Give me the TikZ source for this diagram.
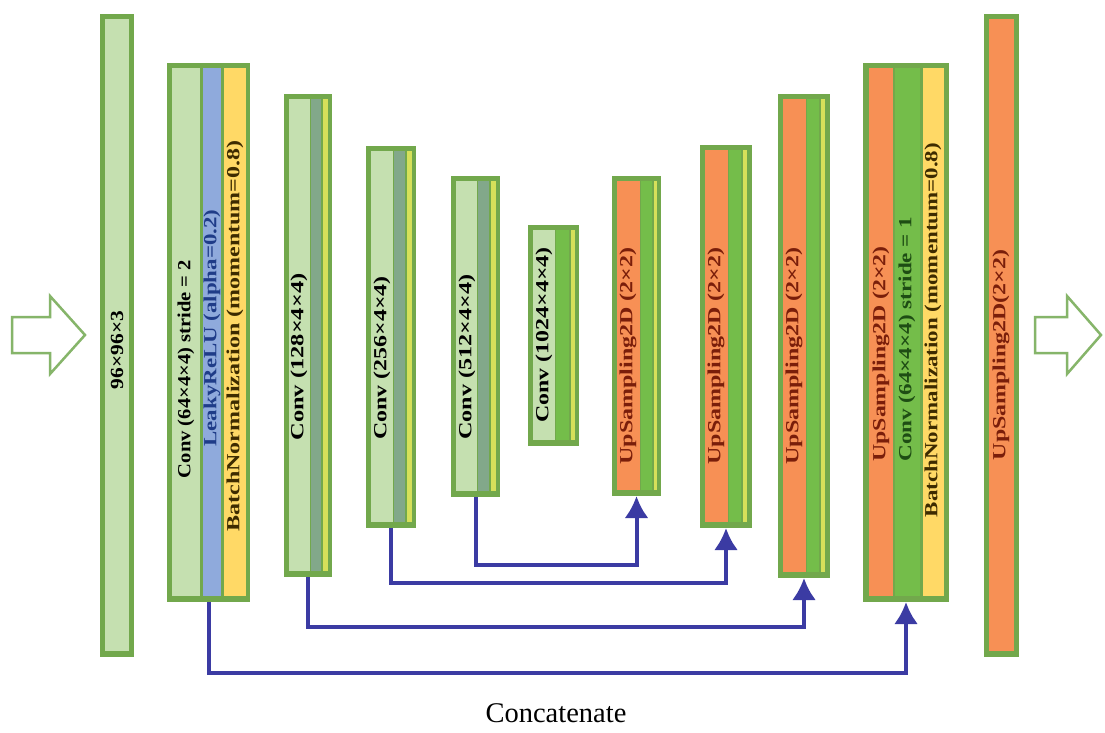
\documentclass[tikz,border=0pt]{standalone}
\usepackage{fontspec}
\setmainfont{Liberation Serif}
\usetikzlibrary{arrows.meta}
\definecolor{bdgreen}{HTML}{72A84C}
\definecolor{lgreen}{HTML}{C5E0B0}
\definecolor{bluest}{HTML}{8FAADC}
\definecolor{yellst}{HTML}{FFD966}
\definecolor{orangest}{HTML}{F79055}
\definecolor{tealst}{HTML}{82A88A}
\definecolor{limest}{HTML}{D6E05A}
\definecolor{greenst}{HTML}{74BD4A}
\definecolor{connblue}{HTML}{3B3BA3}
\definecolor{arrgreen}{HTML}{86B56A}
\definecolor{txtblue}{HTML}{1F3C88}
\definecolor{txtbrown}{HTML}{3D2B00}
\definecolor{txtred}{HTML}{7A1E0A}
\definecolor{txtgreen}{HTML}{1E4D14}
\newcommand{\vtxt}[2]{\resizebox{#1}{\height}{\fontsize{18.5}{18.5}\selectfont\bfseries #2}}
\begin{document}
\begin{tikzpicture}[x=1pt,y=-1pt,
  barbox/.style={fill=bdgreen,draw=none,inner sep=0pt,outer sep=0pt},
  lbl/.style={rotate=90,inner sep=0pt},
  conn/.style={draw=connblue,line width=4pt,-{Latex[length=22pt,width=24pt]}},
  hollow/.style={draw=arrgreen,line width=2.5pt,line join=miter,fill=white}]
\useasboundingbox (0,0) rectangle (1105,733);
\fill[white] (0,0) rectangle (1105,733);
% bars
\node[barbox,minimum width=34pt,minimum height=643pt] (b1) at (117,335.5) {};
\node[barbox,minimum width=83pt,minimum height=539pt] (b2) at (208.5,332.5) {};
\node[barbox,minimum width=48pt,minimum height=483pt] (b3) at (308,335.5) {};
\node[barbox,minimum width=50pt,minimum height=382pt] (b4) at (391,337) {};
\node[barbox,minimum width=49pt,minimum height=321pt] (b5) at (475.5,336.5) {};
\node[barbox,minimum width=51pt,minimum height=221pt] (b6) at (553.5,335.5) {};
\node[barbox,minimum width=49pt,minimum height=320pt] (b7) at (636.5,336) {};
\node[barbox,minimum width=52pt,minimum height=383pt] (b8) at (726,336.5) {};
\node[barbox,minimum width=52pt,minimum height=484pt] (b9) at (804,336) {};
\node[barbox,minimum width=86pt,minimum height=539pt] (b10) at (906,332.5) {};
\node[barbox,minimum width=35pt,minimum height=643pt] (b11) at (1001.5,335.5) {};
% stripes
\fill[lgreen] (105,19) rectangle (129,651);
\fill[lgreen] (172,68) rectangle (200,596);
\fill[bluest] (203,68) rectangle (221,596);
\fill[yellst] (224,68) rectangle (246,596);
\fill[lgreen] (289,99) rectangle (310,571);
\fill[tealst] (311,99) rectangle (321,571);
\fill[limest] (323,99) rectangle (328,571);
\fill[lgreen] (371,151) rectangle (393,522);
\fill[tealst] (394,151) rectangle (405,522);
\fill[limest] (407,151) rectangle (412,522);
\fill[lgreen] (456,181) rectangle (477,491);
\fill[tealst] (478,181) rectangle (489,491);
\fill[limest] (491,181) rectangle (496,491);
\fill[lgreen] (533,230) rectangle (555,440);
\fill[greenst] (556,230) rectangle (569,440);
\fill[limest] (571,230) rectangle (575,440);
\fill[orangest] (617,181) rectangle (640,490);
\fill[greenst] (641,181) rectangle (652,490);
\fill[limest] (654,181) rectangle (657,490);
\fill[orangest] (705,150) rectangle (728,522);
\fill[greenst] (729,150) rectangle (741,522);
\fill[limest] (743,150) rectangle (747,522);
\fill[orangest] (783,99) rectangle (806,572);
\fill[greenst] (807,99) rectangle (819,572);
\fill[limest] (821,99) rectangle (825,572);
\fill[orangest] (869,68) rectangle (893,596);
\fill[greenst] (895,68) rectangle (920,596);
\fill[yellst] (923,68) rectangle (944,596);
\fill[orangest] (989,19) rectangle (1014,651);
% labels
\node[lbl] (t1) at (117,350) {\vtxt{78pt}{96×96×3}};
\node[lbl] (t2a) at (186,369) {\vtxt{218pt}{Conv (64×4×4) stride = 2}};
\node[lbl,text=txtblue] (t2b) at (212,328) {\vtxt{237pt}{LeakyReLU (alpha=0.2)}};
\node[lbl,text=txtbrown] (t2c) at (235,336) {\vtxt{391pt}{BatchNormalization (momentum=0.8)}};
\node[lbl] (t3) at (299,357) {\vtxt{167pt}{Conv (128×4×4)}};
\node[lbl] (t4) at (382,358) {\vtxt{163pt}{Conv (256×4×4)}};
\node[lbl] (t5) at (467,357) {\vtxt{165pt}{Conv (512×4×4)}};
\node[lbl] (t6) at (544,335) {\vtxt{175pt}{Conv (1024×4×4)}};
\node[lbl,text=txtred] (t7) at (628,356) {\vtxt{217pt}{UpSampling2D (2×2)}};
\node[lbl,text=txtred] (t8) at (716,356) {\vtxt{217pt}{UpSampling2D (2×2)}};
\node[lbl,text=txtred] (t9) at (794,356) {\vtxt{217pt}{UpSampling2D (2×2)}};
\node[lbl,text=txtred] (t10a) at (881,354) {\vtxt{215pt}{UpSampling2D (2×2)}};
\node[lbl,text=txtgreen] (t10b) at (907,339) {\vtxt{245pt}{Conv (64×4×4) stride = 1}};
\node[lbl,text=txtbrown] (t10c) at (933,330) {\vtxt{374pt}{BatchNormalization (momentum=0.8)}};
\node[lbl,text=txtred] (t11) at (1001,355) {\vtxt{210pt}{UpSampling2D(2×2)}};
% connectors
\draw[conn] (b5.south) -- ++(0,68) -| (b7.south);
\draw[conn] (b4.south) -- ++(0,55) -| (b8.south);
\draw[conn] (b3.south) -- ++(0,50) -| (b9.south);
\draw[conn] (b2.south) -- ++(0,71) -| (b10.south);
\node[font=\fontsize{28.5}{30}\selectfont,inner sep=0pt] (cat) at (556,713) {Concatenate};
% hollow arrows
\draw[hollow] (12,317) -- (50,317) -- (50,296) -- (85,335) -- (50,374) -- (50,353) -- (12,353) -- cycle;
\draw[hollow] (1035,317) -- (1067,317) -- (1067,296) -- (1101,335) -- (1067,374) -- (1067,353) -- (1035,353) -- cycle;
\end{tikzpicture}
\end{document}
